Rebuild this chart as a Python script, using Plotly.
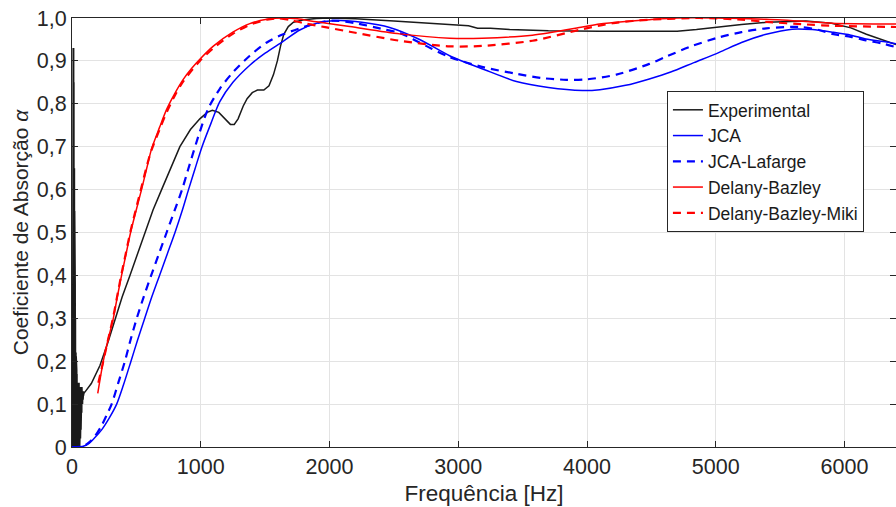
import plotly.graph_objects as go

# ---------------- data ----------------
# experimental: noisy low-frequency part (0-90 Hz)
exp_low_f = list(range(0, 91))
exp_low_a = [0.0, 0.05, 0.0, 0.15, 0.01, 0.3, 0.0, 0.45, 0.02, 0.7, 0.0, 0.93, 0.01, 0.85,
             0.0, 0.74, 0.03, 0.65, 0.0, 0.55, 0.02, 0.45, 0.0, 0.38, 0.03, 0.3, 0.0, 0.25,
             0.02, 0.22, 0.0, 0.21, 0.04, 0.2, 0.0, 0.18, 0.02, 0.17, 0.0, 0.16, 0.03, 0.15,
             0.0, 0.15, 0.02, 0.14, 0.0, 0.15, 0.03, 0.13, 0.01, 0.14, 0.0, 0.15, 0.02, 0.13,
             0.04, 0.14, 0.0, 0.12, 0.03, 0.14, 0.05, 0.13, 0.02, 0.12, 0.06, 0.14, 0.04, 0.12,
             0.07, 0.13, 0.05, 0.12, 0.08, 0.14, 0.09, 0.12, 0.1, 0.13, 0.1, 0.12, 0.11, 0.13,
             0.11, 0.12, 0.12, 0.13, 0.12, 0.125, 0.125]
# experimental: smooth part
exp_f = [90, 100, 150, 217, 280, 339, 390, 450, 510, 566, 630, 696, 747, 838, 920, 993, 1050,
         1090, 1140, 1190, 1230, 1260, 1290, 1330, 1360, 1400, 1440, 1490, 1530, 1565,
         1595, 1620, 1645, 1680, 1720, 1800, 1900, 2000, 2200, 2500, 2800, 2950, 3080,
         3150, 3250, 3400, 3700, 4100, 4500, 4700, 4850, 5030, 5200, 5400, 5550, 5700,
         5900, 6050, 6170, 6300, 6400]
exp_a = [0.125, 0.128, 0.148, 0.19, 0.245, 0.3, 0.35, 0.4, 0.452, 0.5, 0.553, 0.6, 0.635, 0.70,
         0.74, 0.765, 0.78, 0.785, 0.78, 0.765, 0.752, 0.752, 0.765, 0.795, 0.812, 0.826,
         0.832, 0.832, 0.842, 0.868, 0.9, 0.935, 0.962, 0.98, 0.99, 0.996, 0.999, 1.0,
         0.998, 0.993, 0.988, 0.985, 0.982, 0.976, 0.976, 0.973, 0.97, 0.969, 0.969,
         0.969, 0.973, 0.98, 0.985, 0.99, 0.992, 0.993, 0.988, 0.977, 0.962, 0.948, 0.938]

jca_f = [0, 80, 130, 178, 230, 290, 347, 400, 458, 510, 565, 620, 680, 740, 800, 855,
         905, 955, 1010, 1080, 1148, 1250, 1381, 1500, 1637, 1769, 1900, 2079, 2250,
         2467, 2700, 2933, 3200, 3452, 3700, 3964, 4100, 4300, 4484, 4650, 4830, 5027,
         5200, 5392, 5593, 5750, 5904, 6050, 6167, 6300, 6400]
jca_a = [0.0, 0.001, 0.008, 0.022, 0.04, 0.068, 0.1, 0.145, 0.2, 0.25, 0.3, 0.35, 0.4,
         0.45, 0.5, 0.55, 0.6, 0.648, 0.7, 0.755, 0.805, 0.85, 0.89, 0.918, 0.945, 0.972,
         0.988, 0.994, 0.99, 0.978, 0.95, 0.912, 0.88, 0.852, 0.838, 0.831, 0.833, 0.843,
         0.858, 0.874, 0.896, 0.92, 0.943, 0.962, 0.974, 0.973, 0.967, 0.96, 0.951, 0.945,
         0.94]

jcal_f = [0, 80, 130, 180, 230, 270, 308, 360, 411, 455, 503, 557, 615, 675, 735, 795,
          855, 900, 993, 1060, 1148, 1249, 1381, 1513, 1640, 1769, 1900, 2025, 2200,
          2400, 2545, 2750, 2933, 3200, 3452, 3650, 3840, 4000, 4228, 4484, 4616,
          4800, 5027, 5200, 5392, 5648, 5800, 5904, 6050, 6167, 6300, 6400]
jcal_a = [0.0, 0.001, 0.01, 0.026, 0.05, 0.075, 0.1, 0.15, 0.2, 0.25, 0.3, 0.35, 0.4,
          0.45, 0.5, 0.55, 0.6, 0.645, 0.735, 0.79, 0.835, 0.873, 0.912, 0.943, 0.962,
          0.976, 0.988, 0.994, 0.988, 0.975, 0.965, 0.935, 0.909, 0.885, 0.87, 0.86,
          0.856, 0.857, 0.868, 0.893, 0.91, 0.933, 0.955, 0.967, 0.976, 0.979,
          0.972, 0.963, 0.956, 0.948, 0.94, 0.932]

db_f = [200, 243, 280, 321, 352, 385, 420, 455, 497, 540, 579, 618, 680, 735, 800, 864,
        930, 993, 1100, 1249, 1381, 1513, 1637, 1750, 1900, 2157, 2545, 2933, 3188,
        3576, 3964, 4096, 4300, 4484, 4700, 5000, 5392, 5700, 5904, 6400]
db_a = [0.125, 0.2, 0.25, 0.3, 0.35, 0.4, 0.45, 0.5, 0.55, 0.6, 0.648, 0.695, 0.745,
        0.787, 0.825, 0.857, 0.883, 0.904, 0.935, 0.967, 0.987, 0.997, 1.0, 0.998,
        0.991, 0.98, 0.963, 0.953, 0.953, 0.96, 0.979, 0.986, 0.992, 0.996, 1.0, 1.0,
        0.997, 0.992, 0.988, 0.986]

dbm_f = [205, 243, 280, 318, 350, 382, 417, 452, 493, 535, 575, 615, 680, 735, 800, 864,
         993, 1100, 1249, 1381, 1513, 1600, 1700, 1800, 1978, 2157, 2545, 2933, 3188,
         3576, 3964, 4200, 4484, 4872, 5200, 5392, 5700, 5904, 6400]
dbm_a = [0.15, 0.2, 0.25, 0.3, 0.35, 0.4, 0.45, 0.5, 0.55, 0.6, 0.648, 0.69, 0.74, 0.78,
         0.82, 0.852, 0.9, 0.93, 0.963, 0.984, 0.996, 0.999, 0.995, 0.988, 0.978, 0.968,
         0.947, 0.934, 0.935, 0.947, 0.974, 0.988, 0.996, 1.0, 0.996, 0.991, 0.985,
         0.982, 0.979]

x_ticks = [0, 1000, 2000, 3000, 4000, 5000, 6000]
y_ticks = [0, 0.1, 0.2, 0.3, 0.4, 0.5, 0.6, 0.7, 0.8, 0.9, 1.0]
y_ticklabels = ["0", "0,1", "0,2", "0,3", "0,4", "0,5", "0,6", "0,7", "0,8", "0,9", "1,0"]

# ---------------- figure ----------------
FONT = "Liberation Sans, Arial, Helvetica, sans-serif"
BLACK = "#1a1a1a"
fig = go.Figure()
fig.add_trace(go.Scatter(x=exp_low_f, y=exp_low_a, mode="lines", name="Experimental",
                         legendgroup="exp", showlegend=False,
                         line=dict(color=BLACK, width=2)))
fig.add_trace(go.Scatter(x=exp_f, y=exp_a, mode="lines", name="Experimental",
                         legendgroup="exp",
                         line=dict(color=BLACK, width=1.5)))
fig.add_trace(go.Scatter(x=jca_f, y=jca_a, mode="lines", name="JCA",
                         line=dict(color="#0000ff", width=1.5, shape="spline", smoothing=0.8)))
fig.add_trace(go.Scatter(x=jcal_f, y=jcal_a, mode="lines", name="JCA-Lafarge",
                         line=dict(color="#0000ff", width=2.2, dash="8px,6px",
                                   shape="spline", smoothing=0.8)))
fig.add_trace(go.Scatter(x=db_f, y=db_a, mode="lines", name="Delany-Bazley",
                         line=dict(color="#ff0000", width=1.5, shape="spline", smoothing=0.8)))
fig.add_trace(go.Scatter(x=dbm_f, y=dbm_a, mode="lines", name="Delany-Bazley-Miki",
                         line=dict(color="#ff0000", width=2.2, dash="8px,6px",
                                   shape="spline", smoothing=0.8)))

axis_common = dict(showline=True, linecolor="#262626", linewidth=1, mirror="ticks",
                   ticks="inside", ticklen=6, tickcolor="#262626", showgrid=True,
                   gridcolor="#e3e3e3", gridwidth=1, zeroline=False,
                   tickfont=dict(family=FONT, size=21.5, color="#262626"))

fig.update_xaxes(range=[0, 6400], tickvals=x_ticks,
                 ticktext=[str(v) for v in x_ticks],
                 title=dict(text="Frequência [Hz]",
                            font=dict(family=FONT, size=22.5, color="#262626"),
                            standoff=7),
                 **axis_common)
fig.update_yaxes(range=[0, 1.0], tickvals=y_ticks, ticktext=y_ticklabels,
                 title=dict(text="Coeficiente de Absorção <i>α</i>",
                            font=dict(family=FONT, size=21, color="#262626"), standoff=2),
                 **axis_common)

fig.update_layout(
    width=896, height=507,
    margin=dict(l=72, r=0, t=18, b=60),
    plot_bgcolor="white", paper_bgcolor="white",
    showlegend=True,
    legend=dict(x=0.722, y=0.83, xanchor="left", yanchor="top",
                bgcolor="white", bordercolor="#262626", borderwidth=1,
                font=dict(family=FONT, size=17.5, color=BLACK),
                tracegroupgap=0, itemwidth=30),
)

fig.write_html("out.html")
